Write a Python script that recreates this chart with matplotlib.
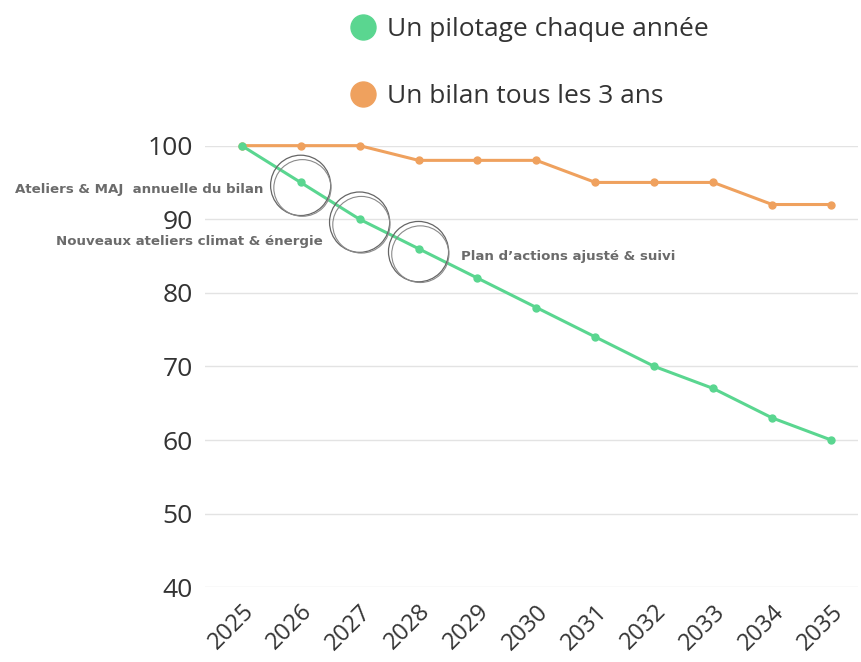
import matplotlib.pyplot as plt
from matplotlib.lines import Line2D
from matplotlib.patches import Ellipse

# ─── données ───
annees = [2025, 2026, 2027, 2028, 2029, 2030, 2031, 2032, 2033, 2034, 2035]
pilotage_annuel = [100, 95, 90, 86, 82, 78, 74, 70, 67, 63, 60]
bilan_3_ans = [100, 100, 100, 98, 98, 98, 95, 95, 95, 92, 92]
yticks = [40, 50, 60, 70, 80, 90, 100]

etapes = ["Ateliers & MAJ  annuelle du bilan",
          "Nouveaux ateliers climat & énergie",
          "Plan d’actions ajusté & suivi"]
etapes_annees = [2026, 2027, 2028]

VERT = "#5AD690"
ORANGE = "#EFA15E"
GRIS_TXT = "#6b6b6b"

plt.rcParams["font.family"] = ["Open Sans", "DejaVu Sans"]

fig = plt.figure(figsize=(8.62, 6.62), dpi=100)
ax = fig.add_axes([0.238, 0.113, 0.757, 0.667])

ax.plot(annees, bilan_3_ans, color=ORANGE, lw=2.2, marker="o", ms=5,
        clip_on=False, zorder=3)
ax.plot(annees, pilotage_annuel, color=VERT, lw=2.2, marker="o", ms=5,
        clip_on=False, zorder=3)

ax.set_xlim(2024.38, 2035.45)
ax.set_ylim(40, 100)
ax.set_yticks(yticks)
ax.set_xticks(annees)
ax.set_xticklabels([str(a) for a in annees], rotation=45, ha="right",
                   rotation_mode="anchor", fontsize=17, color="#333")
ax.tick_params(axis="y", labelsize=19, labelcolor="#333", length=0, pad=9)
ax.tick_params(axis="x", length=0, pad=9)
ax.grid(axis="y", color="#e3e3e3", lw=1)
ax.set_axisbelow(True)
for s in ax.spines.values():
    s.set_visible(False)

# cercles doubles tracés à main levée autour des étapes
vals = dict(zip(annees, pilotage_annuel))
for a in etapes_annees:
    cx, cy = a, vals[a] - 0.4
    ax.add_patch(Ellipse((cx, cy), 1.02, 8.2, fill=False, ec="#666",
                         lw=0.9, clip_on=False, zorder=4))
    ax.add_patch(Ellipse((cx + 0.03, cy - 0.35), 0.97, 7.7,
                         fill=False, ec="#8a8a8a", lw=0.8, clip_on=False,
                         zorder=4))

# textes des étapes
style = dict(fontsize=9.6, fontweight="bold", color=GRIS_TXT,
             family=["DejaVu Sans"], clip_on=False, va="center")
ax.text(2025.36, 94.0, etapes[0], ha="right", **style)
ax.text(2026.38, 87.0, etapes[1], ha="right", **style)
ax.text(2028.72, 85.0, etapes[2], ha="left", **style)

handles = [Line2D([], [], ls="none", marker="o", ms=18, color=VERT),
           Line2D([], [], ls="none", marker="o", ms=18, color=ORANGE)]
fig.legend(handles, ["Un pilotage chaque année", "Un bilan tous les 3 ans"],
           loc="upper left", bbox_to_anchor=(0.375, 1.01), frameon=False,
           fontsize=19, labelcolor="#333", labelspacing=1.6,
           handletextpad=0.3, handlelength=1.2)

fig.savefig("out.png", dpi=100)
